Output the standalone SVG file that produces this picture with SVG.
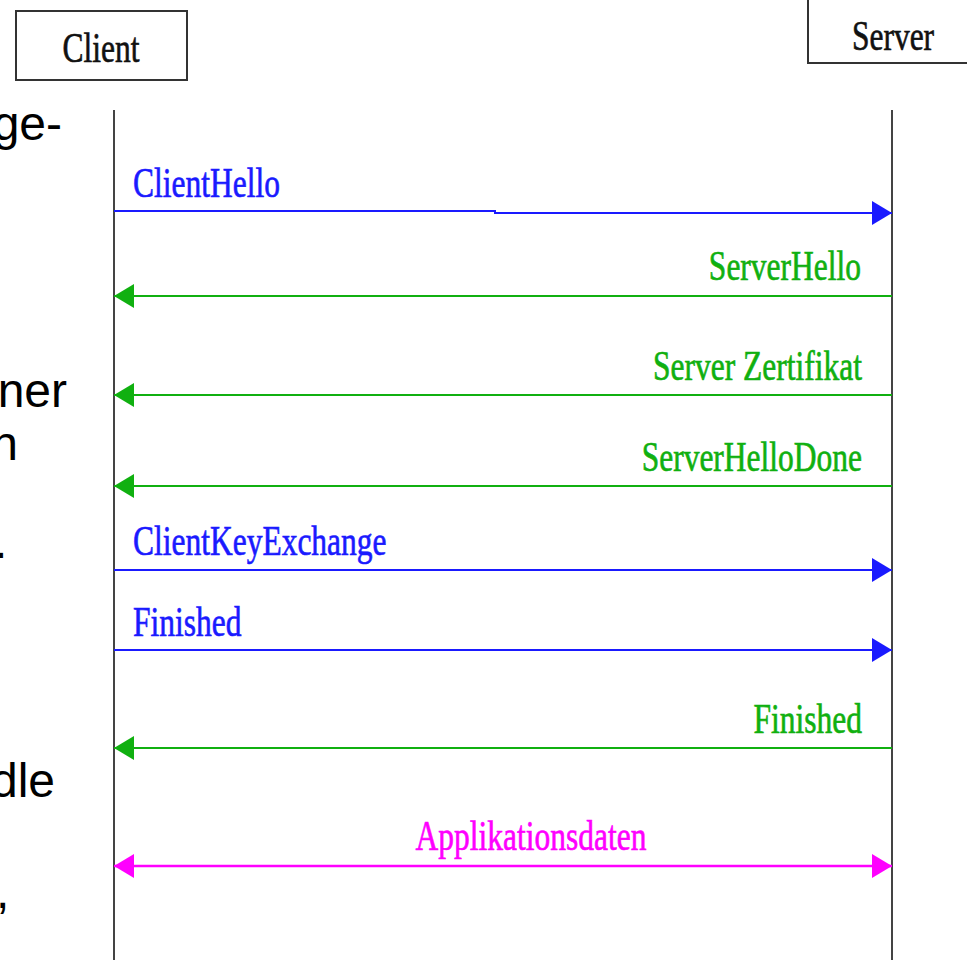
<svg xmlns="http://www.w3.org/2000/svg" width="967" height="960" viewBox="0 0 967 960">
<style>
.lbl{font-family:"Liberation Serif","Times New Roman",serif;font-size:31.5px;stroke-width:0.5px}
.side{font-family:"Liberation Sans",Arial,sans-serif;font-size:48px;fill:#000}
.box{fill:#fff;stroke:#333;stroke-width:2}
.life{stroke:#444;stroke-width:2;fill:none}
.blk{fill:#111;stroke:#111}
.blue{fill:#1a1aff;stroke:#1a1aff}
.green{fill:#10b010;stroke:#10b010}
.mag{fill:#ff00ff;stroke:#ff00ff}
.lb{stroke:#1a1aff;stroke-width:2;fill:none}
.lg{stroke:#10b010;stroke-width:2;fill:none}
.lm{stroke:#ff00ff;stroke-width:2.5;fill:none}
</style>
<defs>
<marker id="ab" markerUnits="userSpaceOnUse" markerWidth="22" markerHeight="26" refX="20" refY="12" orient="auto"><path d="M0,0 L20,12 L0,24 z" fill="#1a1aff"/></marker>
<marker id="ag" markerUnits="userSpaceOnUse" markerWidth="22" markerHeight="26" refX="20" refY="12" orient="auto"><path d="M0,0 L20,12 L0,24 z" fill="#10b010"/></marker>
<marker id="am" markerUnits="userSpaceOnUse" markerWidth="22" markerHeight="26" refX="20" refY="12" orient="auto-start-reverse"><path d="M0,0 L20,12 L0,24 z" fill="#ff00ff"/></marker>
</defs>
<rect width="967" height="960" fill="#fff"/>
<g id="side-text">
<text class="side" x="62" y="140" text-anchor="end">ge-</text>
<text class="side" x="67" y="407" text-anchor="end">ner</text>
<text class="side" x="18" y="460" text-anchor="end">n</text>
<text class="side" x="-6" y="558">.</text>
<text class="side" x="55" y="797" text-anchor="end">dle</text>
<text class="side" x="-4" y="908">,</text>
</g>
<g id="client">
<rect class="box" x="16" y="11" width="171" height="69"/>
<text class="lbl blk" text-anchor="middle" transform="translate(101,62) scale(1,1.33)">Client</text>
<line class="life" x1="114" y1="110" x2="114" y2="960"/>
</g>
<g id="server">
<rect class="box" x="808" y="-5" width="170" height="68"/>
<text class="lbl blk" text-anchor="middle" transform="translate(893,50) scale(1,1.33)">Server</text>
<line class="life" x1="892" y1="110" x2="892" y2="960"/>
</g>
<g id="connectors">
<path class="lb" d="M114,211 H495 V213 H892" marker-end="url(#ab)"/>
<line class="lg" x1="892" y1="296" x2="114" y2="296" marker-end="url(#ag)"/>
<line class="lg" x1="892" y1="395" x2="114" y2="395" marker-end="url(#ag)"/>
<line class="lg" x1="892" y1="486" x2="114" y2="486" marker-end="url(#ag)"/>
<line class="lb" x1="114" y1="570" x2="892" y2="570" marker-end="url(#ab)"/>
<line class="lb" x1="114" y1="650" x2="892" y2="650" marker-end="url(#ab)"/>
<line class="lg" x1="892" y1="748" x2="114" y2="748" marker-end="url(#ag)"/>
<line class="lm" x1="114" y1="866" x2="892" y2="866" marker-start="url(#am)" marker-end="url(#am)"/>
</g>
<g id="labels">
<text class="lbl blue" transform="translate(133,197) scale(1,1.33)">ClientHello</text>
<text class="lbl green" text-anchor="end" transform="translate(861,280) scale(1,1.33)">ServerHello</text>
<text class="lbl green" text-anchor="end" transform="translate(862,380) scale(1,1.33)">Server Zertifikat</text>
<text class="lbl green" text-anchor="end" transform="translate(862,471) scale(1,1.33)">ServerHelloDone</text>
<text class="lbl blue" transform="translate(133,555) scale(1,1.33)">ClientKeyExchange</text>
<text class="lbl blue" transform="translate(133,636) scale(1,1.33)">Finished</text>
<text class="lbl green" text-anchor="end" transform="translate(862,733) scale(1,1.33)">Finished</text>
<text class="lbl mag" text-anchor="middle" transform="translate(531,850) scale(1,1.33)">Applikationsdaten</text>
</g>
</svg>
